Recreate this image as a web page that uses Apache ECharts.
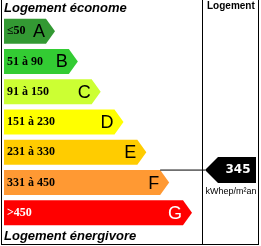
<!DOCTYPE html>
<html><head><meta charset="utf-8">
<script src="https://cdn.jsdelivr.net/npm/echarts@6/dist/echarts.min.js"></script>
<style>html,body{margin:0;padding:0;background:#fff}#c{width:261px;height:246px}</style>
</head><body><div id="c"></div>
<script>
// ---- data ----
const classes = ['A', 'B', 'C', 'D', 'E', 'F', 'G'];
const ranges = ['≤50', '51 à 90', '91 à 150', '151 à 230', '231 à 330', '331 à 450', '>450'];
const barSteps = [1, 2, 3, 4, 5, 6, 7];
const classColors = ['#339933', '#33cc33', '#ccff33', '#ffff00', '#ffcc00', '#ff9933', '#ff0000'];
const consumption = 345;
const consumptionClass = 'F';
const unitLabel = 'kWhep/m²an';
const topTitle = 'Logement économe';
const bottomTitle = 'Logement énergivore';
const columnTitle = 'Logement';

const chart = echarts.init(document.getElementById('c'), null, {renderer: 'canvas'});
const BAR_H = 25, TIP = 9;

function barItem(params, api) {
  const v = api.value(0), i = api.value(1);
  const c = api.coord([v, i]);
  const left = params.coordSys.x;
  const x1 = c[0], y = c[1];
  const pts = [[left, y - BAR_H / 2], [x1 - TIP, y - BAR_H / 2], [x1, y], [x1 - TIP, y + BAR_H / 2], [left, y + BAR_H / 2]];
  const light = i === 6;
  return {
    type: 'group', children: [
      {type: 'polygon', shape: {points: pts}, style: {fill: classColors[i]}},
      {type: 'text', style: {text: ranges[i], x: left + 3, y: y, verticalAlign: 'middle',
        font: 'bold 12px "Liberation Serif"', fill: light ? '#fff' : '#000'}},
      {type: 'text', style: {text: classes[i], x: x1 - 10, y: y + 1, align: 'right', verticalAlign: 'middle',
        font: '18px "Liberation Sans"', fill: light ? '#fff' : '#000'}}
    ]
  };
}

function arrowItem(params, api) {
  const i = api.value(1);
  const c = api.coord([barSteps[i], i]);
  const yTop = c[1] - BAR_H / 2;
  const lineStart = c[0] - TIP;
  const tipX = 205, bodyX = 218, rightX = 256, half = 13;
  return {
    type: 'group', children: [
      {type: 'line', shape: {x1: lineStart, y1: yTop, x2: tipX, y2: yTop}, style: {stroke: '#000', lineWidth: 1}},
      {type: 'polygon', shape: {points: [[tipX, yTop], [bodyX, yTop - half], [rightX, yTop - half], [rightX, yTop + half], [bodyX, yTop + half]]},
        style: {fill: '#000'}},
      {type: 'text', style: {text: String(api.value(0)), x: 238, y: yTop, align: 'center', verticalAlign: 'middle',
        font: 'bold 12px "DejaVu Sans"', fill: '#fff'}},
      {type: 'text', style: {text: unitLabel, x: 231, y: yTop + 21, align: 'center', verticalAlign: 'middle',
        font: '9px "Liberation Sans"', fill: '#000'}}
    ]
  };
}

const ci = classes.indexOf(consumptionClass);

chart.setOption({
  animation: false,
  grid: {left: 4, top: 16, width: 198, height: 212},
  xAxis: {type: 'value', min: -1.2336, max: 7.438, show: false},
  yAxis: {type: 'category', data: classes, inverse: true, show: false},
  graphic: [
    {type: 'line', shape: {x1: 1.5, y1: 0, x2: 1.5, y2: 244.5}, style: {stroke: '#000', lineWidth: 1}},
    {type: 'line', shape: {x1: 258.5, y1: 0, x2: 258.5, y2: 244.5}, style: {stroke: '#000', lineWidth: 1}},
    {type: 'line', shape: {x1: 1, y1: 244.5, x2: 259, y2: 244.5}, style: {stroke: '#000', lineWidth: 1}},
    {type: 'line', shape: {x1: 202.5, y1: 0, x2: 202.5, y2: 244.5}, style: {stroke: '#000', lineWidth: 1}},
    {type: 'text', left: 4, top: 2, style: {text: topTitle, font: 'italic bold 13px "Liberation Sans"', fill: '#000'}},
    {type: 'text', left: 4, top: 230, style: {text: bottomTitle, font: 'italic bold 13px "Liberation Sans"', fill: '#000'}},
    {type: 'text', left: 207, top: 1, style: {text: columnTitle, font: 'bold 10px "Liberation Sans"', fill: '#000'}}
  ],
  series: [
    {type: 'custom', renderItem: barItem, encode: {x: 0, y: 1},
      data: classes.map((c, i) => [barSteps[i], i])},
    {type: 'custom', renderItem: arrowItem, encode: {x: 0, y: 1},
      data: [[consumption, ci]]}
  ]
});
</script>
</body></html>
